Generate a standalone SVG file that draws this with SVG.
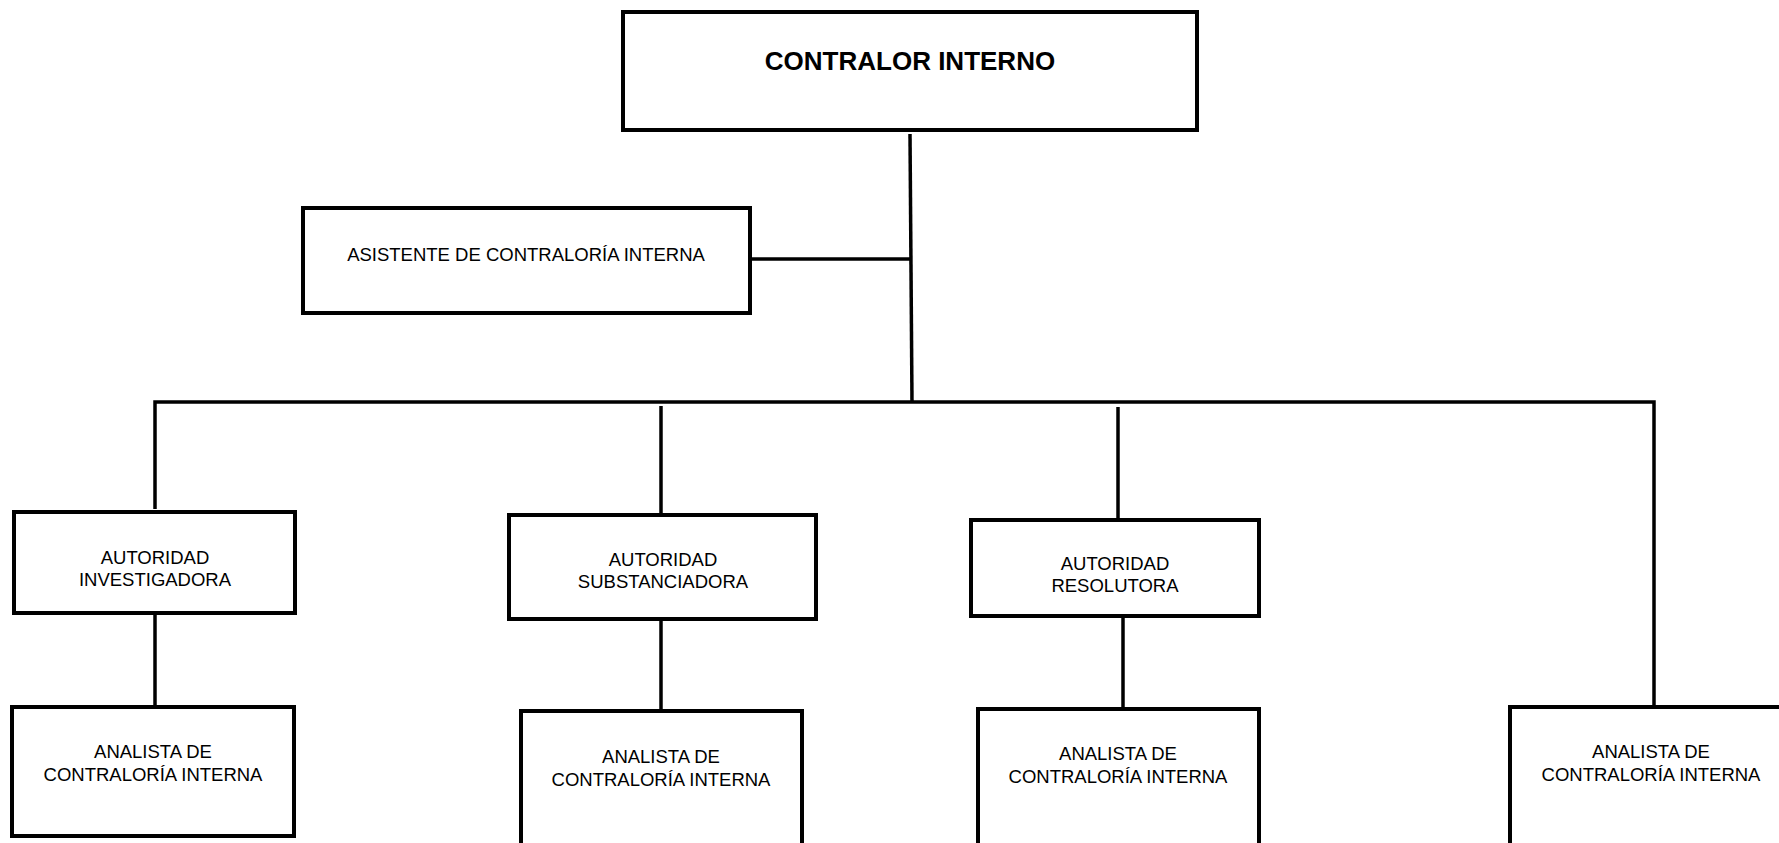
<svg xmlns="http://www.w3.org/2000/svg" width="1779" height="843" viewBox="0 0 1779 843">
<style>
.box{fill:#fff;stroke:#000;stroke-width:4}
.ln{stroke:#000;stroke-width:3.5;fill:none}
.t{font-family:"Liberation Sans",Arial,sans-serif;font-size:18.5px;text-anchor:middle;fill:#000}
.tb{font-family:"Liberation Sans",Arial,sans-serif;font-size:26px;font-weight:bold;text-anchor:middle;fill:#000}
</style>
<rect width="1779" height="843" fill="#fff"/>
<g id="connectors">
<line class="ln" x1="910" y1="134" x2="912" y2="402"/>
<line class="ln" x1="750" y1="259" x2="911" y2="259"/>
<polyline class="ln" points="155,509 155,402 1654,402 1654,707"/>
<line class="ln" x1="661" y1="406" x2="661" y2="515"/>
<line class="ln" x1="1118" y1="407" x2="1118" y2="520"/>
<line class="ln" x1="155" y1="613" x2="155" y2="707"/>
<line class="ln" x1="661" y1="619" x2="661" y2="711"/>
<line class="ln" x1="1123" y1="616" x2="1123" y2="709"/>
</g>
<g id="contralor">
<rect class="box" x="623" y="12" width="574" height="118"/>
<text class="tb" x="910" y="70">CONTRALOR INTERNO</text>
</g>
<g id="asistente">
<rect class="box" x="303" y="208" width="447" height="105"/>
<text class="t" x="526" y="261">ASISTENTE DE CONTRALORÍA INTERNA</text>
</g>
<g id="investigadora">
<rect class="box" x="14" y="512" width="281" height="101"/>
<text class="t" x="155" y="564">AUTORIDAD</text>
<text class="t" x="155" y="586">INVESTIGADORA</text>
</g>
<g id="substanciadora">
<rect class="box" x="509" y="515" width="307" height="104"/>
<text class="t" x="663" y="566">AUTORIDAD</text>
<text class="t" x="663" y="588">SUBSTANCIADORA</text>
</g>
<g id="resolutora">
<rect class="box" x="971" y="520" width="288" height="96"/>
<text class="t" x="1115" y="570">AUTORIDAD</text>
<text class="t" x="1115" y="592">RESOLUTORA</text>
</g>
<g id="analista1">
<rect class="box" x="12" y="707" width="282" height="129"/>
<text class="t" x="153" y="758">ANALISTA DE</text>
<text class="t" x="153" y="781">CONTRALORÍA INTERNA</text>
</g>
<g id="analista2">
<rect class="box" x="521" y="711" width="281" height="150"/>
<text class="t" x="661" y="763">ANALISTA DE</text>
<text class="t" x="661" y="786">CONTRALORÍA INTERNA</text>
</g>
<g id="analista3">
<rect class="box" x="978" y="709" width="281" height="150"/>
<text class="t" x="1118" y="760">ANALISTA DE</text>
<text class="t" x="1118" y="783">CONTRALORÍA INTERNA</text>
</g>
<g id="analista4">
<rect class="box" x="1510" y="707" width="282" height="150"/>
<text class="t" x="1651" y="758">ANALISTA DE</text>
<text class="t" x="1651" y="781">CONTRALORÍA INTERNA</text>
</g>
</svg>
